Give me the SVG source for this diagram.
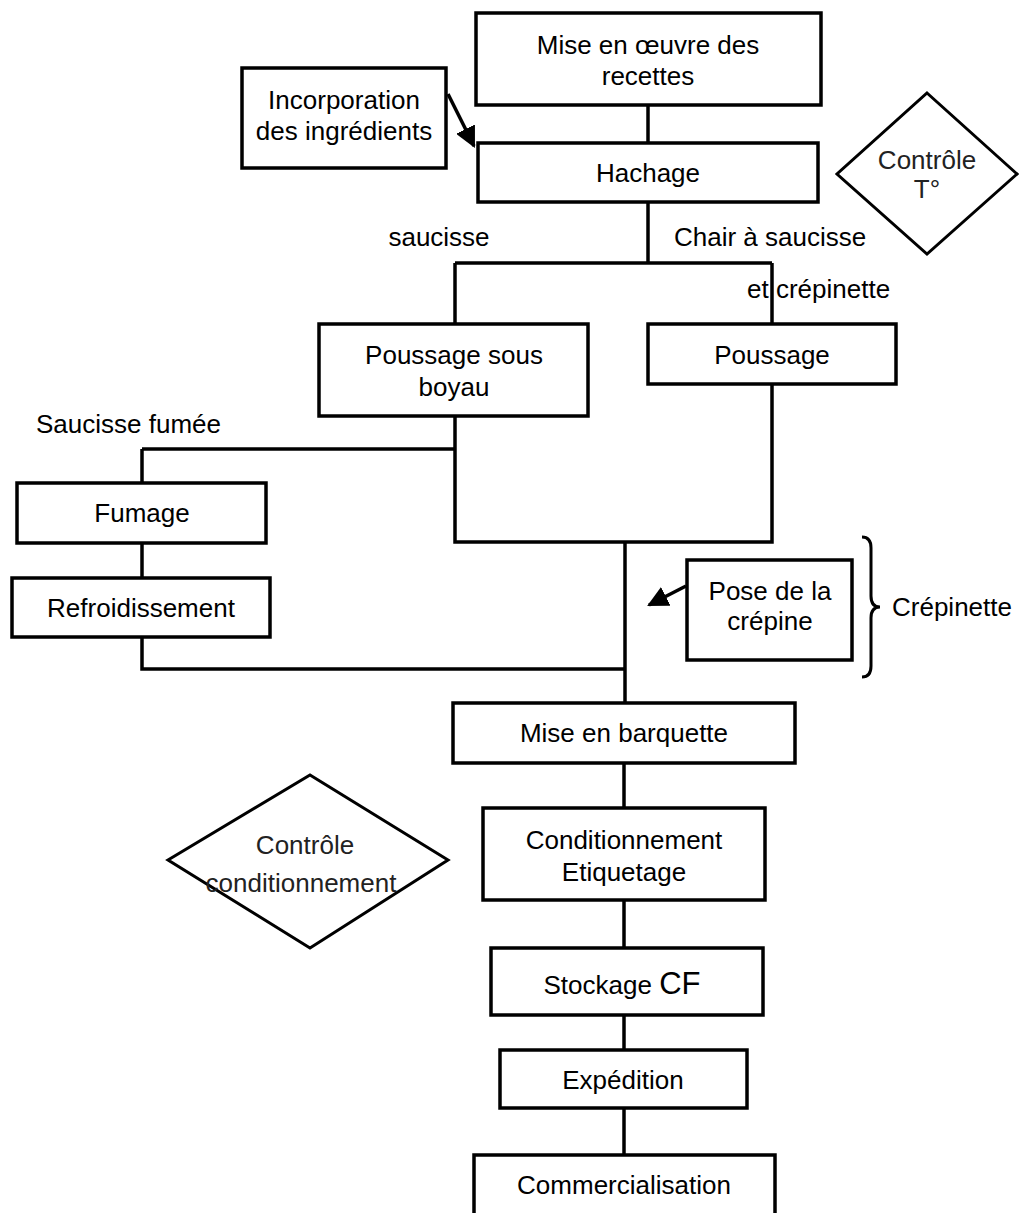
<svg xmlns="http://www.w3.org/2000/svg" width="1019" height="1213" viewBox="0 0 1019 1213">
<defs>
<style>
.box{fill:#fff;stroke:#000;stroke-width:3.5}
.dia{fill:#fff;stroke:#000;stroke-width:3}
.ln{fill:none;stroke:#000;stroke-width:3.5}
text{font-family:"Liberation Sans",Arial,sans-serif;font-size:26px;fill:#000}
.c{text-anchor:middle}
.lt{fill:#222}
</style>
<marker id="ah" viewBox="0 0 10 10" refX="9" refY="5" markerWidth="6" markerHeight="6" orient="auto" markerUnits="strokeWidth">
<path d="M0,0 L10,5 L0,10 z" fill="#000"/>
</marker>
</defs>
<rect width="1019" height="1213" fill="#fff"/>
<g id="connectors">
<path class="ln" d="M648,105 V143"/>
<path class="ln" d="M648,202 V263"/>
<path class="ln" d="M455,263 H772"/>
<path class="ln" d="M455,263 V324"/>
<path class="ln" d="M772,263 V324"/>
<path class="ln" d="M455,416 V542 H772 V384"/>
<path class="ln" d="M142,449 H455"/>
<path class="ln" d="M142,449 V483"/>
<path class="ln" d="M142,543 V578"/>
<path class="ln" d="M142,637 V669 H625"/>
<path class="ln" d="M625,542 V703"/>
<path class="ln" d="M624,763 V808"/>
<path class="ln" d="M624,900 V948"/>
<path class="ln" d="M624,1015 V1050"/>
<path class="ln" d="M624,1108 V1155"/>
<path class="ln" d="M448,94 L474,146" marker-end="url(#ah)"/>
<path class="ln" d="M686,586 L649,605" marker-end="url(#ah)"/>
<path fill="none" stroke="#000" stroke-width="3" d="M862,537 Q871,537 871,548 L871,596 Q871,607 880,607 Q871,607 871,618 L871,666 Q871,677 862,677"/>
</g>
<g id="labels">
<text x="439" y="246" class="c">saucisse</text>
<text x="674" y="246">Chair à saucisse</text>
<text x="747" y="298">et crépinette</text>
<text x="36" y="433">Saucisse fumée</text>
<text x="892" y="616">Crépinette</text>
</g>
<g id="n-mise-oeuvre">
<rect class="box" x="476" y="13" width="345" height="92"/>
<text x="648" y="54" class="c">Mise en œuvre des</text>
<text x="648" y="85" class="c">recettes</text>
</g>
<g id="n-incorporation">
<rect class="box" x="242" y="68" width="204" height="100"/>
<text x="344" y="109" class="c">Incorporation</text>
<text x="344" y="140" class="c">des ingrédients</text>
</g>
<g id="n-hachage">
<rect class="box" x="478" y="143" width="340" height="59"/>
<text x="648" y="182" class="c">Hachage</text>
</g>
<g id="n-controle-t">
<polygon class="dia" points="927,93 1017,174 927,254 837,174"/>
<text x="927" y="169" class="c lt">Contrôle</text>
<text x="927" y="198" class="c lt">T°</text>
</g>
<g id="n-poussage-boyau">
<rect class="box" x="319" y="324" width="269" height="92"/>
<text x="454" y="364" class="c">Poussage sous</text>
<text x="454" y="396" class="c">boyau</text>
</g>
<g id="n-poussage">
<rect class="box" x="648" y="324" width="248" height="60"/>
<text x="772" y="364" class="c">Poussage</text>
</g>
<g id="n-fumage">
<rect class="box" x="17" y="483" width="249" height="60"/>
<text x="142" y="522" class="c">Fumage</text>
</g>
<g id="n-refroidissement">
<rect class="box" x="12" y="578" width="258" height="59"/>
<text x="141" y="617" class="c">Refroidissement</text>
</g>
<g id="n-pose-crepine">
<rect class="box" x="687" y="560" width="165" height="100"/>
<text x="770" y="600" class="c">Pose de la</text>
<text x="770" y="630" class="c">crépine</text>
</g>
<g id="n-barquette">
<rect class="box" x="453" y="703" width="342" height="60"/>
<text x="624" y="742" class="c">Mise en barquette</text>
</g>
<g id="n-conditionnement">
<rect class="box" x="483" y="808" width="282" height="92"/>
<text x="624" y="849" class="c">Conditionnement</text>
<text x="624" y="881" class="c">Etiquetage</text>
</g>
<g id="n-controle-cond">
<polygon class="dia" points="310,775 448,860 310,948 168,860"/>
<text x="305" y="854" class="c lt">Contrôle</text>
<text x="301" y="892" class="c lt">conditionnement</text>
</g>
<g id="n-stockage">
<rect class="box" x="491" y="948" width="272" height="67"/>
<text x="622" y="994" class="c">Stockage <tspan font-size="31">CF</tspan></text>
</g>
<g id="n-expedition">
<rect class="box" x="500" y="1050" width="247" height="58"/>
<text x="623" y="1089" class="c">Expédition</text>
</g>
<g id="n-commercialisation">
<rect class="box" x="474" y="1155" width="301" height="70"/>
<text x="624" y="1194" class="c">Commercialisation</text>
</g>
</svg>
